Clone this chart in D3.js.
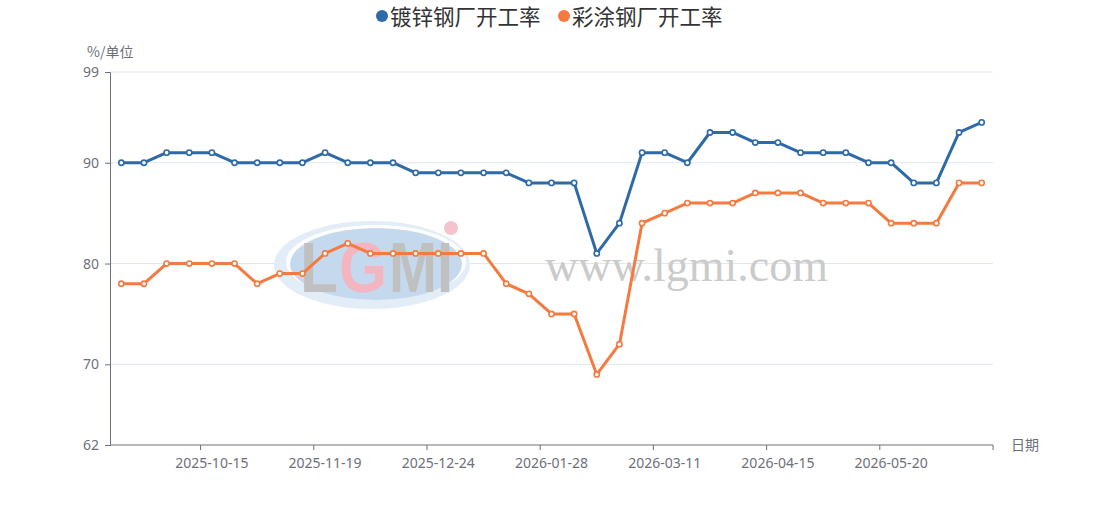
<!DOCTYPE html>
<html>
<head>
<meta charset="utf-8">
<script src="https://cdn.jsdelivr.net/npm/d3@7"></script>
<style>
  body { margin: 0; background: #fff; }
  svg { font-family: "Noto Sans CJK SC", "Noto Sans", sans-serif; }
</style>
</head>
<body>
<script>
// weekly dates (only every 5th is shown on the axis)
const dates = [
  "2025-09-17","2025-09-24","2025-10-01","2025-10-08","2025-10-15",
  "2025-10-22","2025-10-29","2025-11-05","2025-11-12","2025-11-19",
  "2025-11-26","2025-12-03","2025-12-10","2025-12-17","2025-12-24",
  "2025-12-31","2026-01-07","2026-01-14","2026-01-21","2026-01-28",
  "2026-02-04","2026-02-11","2026-02-25","2026-03-04","2026-03-11",
  "2026-03-18","2026-03-25","2026-04-01","2026-04-08","2026-04-15",
  "2026-04-22","2026-04-29","2026-05-06","2026-05-13","2026-05-20",
  "2026-05-27","2026-06-03","2026-06-10","2026-06-17"
];
const galvanized = [90,90,91,91,91,90,90,90,90,91,90,90,90,89,89,89,89,89,88,88,88,81,84,91,91,90,93,93,92,92,91,91,91,90,90,88,88,93,94];
const coated = [78,78,80,80,80,80,78,79,79,81,82,81,81,81,81,81,81,78,77,75,75,69,72,84,85,86,86,86,87,87,87,86,86,86,84,84,84,88,88];
const yTicks = [62, 70, 80, 90, 99];
const seriesNames = ["镀锌钢厂开工率", "彩涂钢厂开工率"];
const colors = ["#2f6aa8", "#f47a3f"];

const W = 1105, H = 530;
const margin = {left: 110, right: 112, top: 72, bottom: 85};

const svg = d3.select("body").append("svg").attr("width", W).attr("height", H);

const x = d3.scaleBand().domain(dates).range([margin.left, W - margin.right]);
const y = d3.scaleLinear().domain([62, 99]).range([H - margin.bottom, margin.top]);
const cx = d => x(d) + x.bandwidth() / 2;

// grid
svg.append("g").selectAll("line").data(yTicks.filter(t => t != 62)).enter().append("line")
  .attr("x1", margin.left).attr("x2", W - margin.right)
  .attr("y1", d => y(d)).attr("y2", d => y(d))
  .attr("stroke", "#e0e6f1").attr("stroke-width", 1);

// watermark
const wm = svg.append("g");
wm.append("ellipse").attr("cx", 372).attr("cy", 265).attr("rx", 98).attr("ry", 44)
  .attr("fill", "#e3edf7");
wm.append("ellipse").attr("cx", 376).attr("cy", 262).attr("rx", 90).attr("ry", 37)
  .attr("fill", "#fff");
wm.append("ellipse").attr("cx", 376).attr("cy", 264).attr("rx", 86).attr("ry", 36)
  .attr("fill", "#c5d9ee");
wm.append("circle").attr("cx", 451).attr("cy", 228).attr("r", 7).attr("fill", "#f4c3cd");
const logoParts = [["L", 300, 38, "#c0c0c0"], ["G", 339, 48, "#f3b6c1"], ["MI", 389, 64, "#c0c0c0"]];
logoParts.forEach(p => {
  wm.append("text").attr("x", p[1]).attr("y", 292).text(p[0])
    .attr("font-family", "Liberation Sans, Arial, sans-serif").attr("font-weight", "bold")
    .attr("font-size", 70).attr("textLength", p[2]).attr("lengthAdjust", "spacingAndGlyphs")
    .attr("fill", p[3]);
});
wm.append("text").attr("x", 545).attr("y", 281).text("www.lgmi.com")
  .attr("font-family", "Liberation Serif, serif").attr("font-size", 46)
  .attr("textLength", 283).attr("lengthAdjust", "spacingAndGlyphs")
  .attr("fill", "#cbcbcb");

// y axis
const yAxis = svg.append("g").attr("transform", `translate(${margin.left},0)`)
  .call(d3.axisLeft(y).tickValues(yTicks).tickSize(5).tickPadding(6));
yAxis.selectAll("text").attr("font-size", 14).attr("fill", "#6e7079")
  .attr("font-family", "Noto Sans, sans-serif");
yAxis.selectAll("line, path").attr("stroke", "#6e7079");

// x axis: ticks at band boundaries, labels centered on the band
const shown = dates.filter((d, i) => i % 5 == 4);
const xg = svg.append("g").attr("transform", `translate(0,${H - margin.bottom})`);
xg.append("line").attr("x1", margin.left).attr("x2", W - margin.right)
  .attr("stroke", "#6e7079");
xg.selectAll(".tk").data(shown.concat(["end"])).enter().append("line")
  .attr("x1", d => d == "end" ? W - margin.right : x(d))
  .attr("x2", d => d == "end" ? W - margin.right : x(d))
  .attr("y1", 0).attr("y2", 5).attr("stroke", "#6e7079");
xg.selectAll("text").data(shown).enter().append("text")
  .attr("x", d => cx(d)).attr("y", 23).attr("text-anchor", "middle")
  .attr("font-size", 14).attr("fill", "#6e7079")
  .attr("font-family", "Noto Sans, sans-serif").text(d => d);

// axis names
svg.append("text").attr("x", 87).attr("y", 57).text("%/单位")
  .attr("font-size", 14).attr("fill", "#6e7079");
svg.append("text").attr("x", 1011).attr("y", 450).text("日期")
  .attr("font-size", 14).attr("fill", "#6e7079");

// lines
const line = d3.line().x((d, i) => cx(dates[i])).y(d => y(d));
[galvanized, coated].forEach((s, k) => {
  svg.append("path").datum(s).attr("d", line)
    .attr("fill", "none").attr("stroke", colors[k]).attr("stroke-width", 3)
    .attr("stroke-linejoin", "round");
  svg.append("g").selectAll("circle").data(s).enter().append("circle")
    .attr("cx", (d, i) => cx(dates[i])).attr("cy", d => y(d)).attr("r", 2.6)
    .attr("fill", "#fff").attr("stroke", colors[k]).attr("stroke-width", 1.6);
});

// legend
const lg = svg.append("g");
const lx = [382, 564];
seriesNames.forEach((n, k) => {
  lg.append("circle").attr("cx", lx[k]).attr("cy", 16).attr("r", 6).attr("fill", colors[k]);
  lg.append("text").attr("x", lx[k] + 8).attr("y", 25).text(n)
    .attr("font-size", 21.5).attr("fill", "#333");
});
</script>
</body>
</html>
